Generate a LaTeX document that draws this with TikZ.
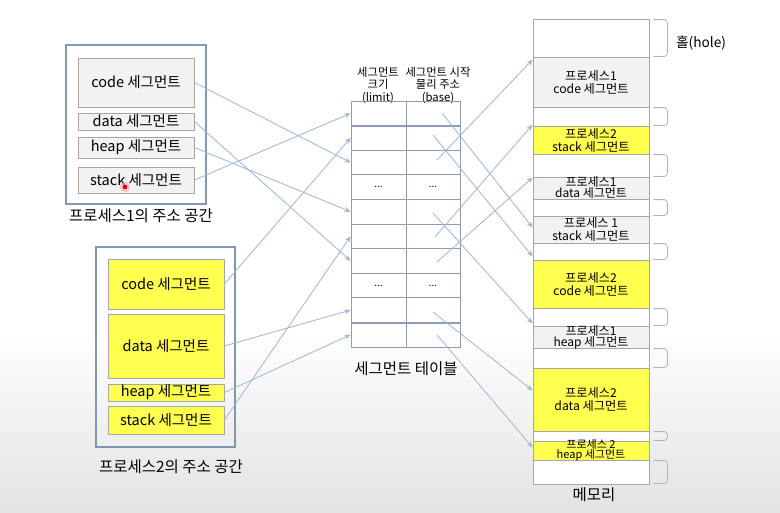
\documentclass[tikz,border=0pt]{standalone}
\usepackage{fontspec}
\setmainfont{Noto Sans CJK KR}
\usetikzlibrary{arrows.meta,calc}
\definecolor{boxline}{HTML}{8497B0}
\definecolor{segline}{HTML}{A6A6A6}
\definecolor{segfill}{HTML}{F2F2F2}
\definecolor{yel}{HTML}{FFFF50}
\definecolor{arr}{HTML}{9FB6D2}
\definecolor{tline}{HTML}{8C9DB5}
\begin{document}
\begin{tikzpicture}[x=1pt,y=-1pt,
  outerbox/.style={draw=boxline,line width=1.6pt},
  gseg/.style={draw=segline,fill=segfill,line width=0.8pt,inner sep=0pt,minimum width=116pt,font=\fontsize{14.5}{16}\selectfont},
  yseg/.style={gseg,fill=yel},
  mem/.style={draw=segline,line width=0.8pt,inner sep=0pt,minimum width=116pt},
  memg/.style={mem,fill=segfill},
  memy/.style={mem,fill=yel},
  memh/.style={mem,fill=white},
  memtxt/.style={align=center,inner sep=0pt,font=\fontsize{12.2}{13}\selectfont},
  cell/.style={draw=tline,line width=0.8pt,inner sep=0pt,minimum height=24.6pt},
  lcell/.style={cell,minimum width=55pt},
  bcell/.style={cell,minimum width=54pt},
  hdr/.style={align=center,inner sep=0pt,font=\fontsize{11.3}{12.5}\selectfont},
  conn/.style={draw=arr,line width=0.8pt,-{Stealth[length=6pt,width=5pt]}},
  brk/.style={draw=boxline!70,line width=0.8pt,rounded corners=3pt},
  lbl/.style={inner sep=0pt,font=\fontsize{15.5}{17}\selectfont},
  dots/.style={inner sep=0pt,font=\fontsize{10}{10}\selectfont},
]
\useasboundingbox (0,0) rectangle (780,512);
\fill[white] (0,0) rectangle (780,512);
\shade[top color=white,bottom color=black!11] (0,330) rectangle (780,512);

% process 1
\draw[outerbox] (66,45) rectangle (206,204);
\node[gseg,minimum height=49pt] (p1code) at (136,82.5) {code 세그먼트};
\node[gseg,minimum height=17pt] (p1data) at (136,121.5) {data 세그먼트};
\node[gseg,minimum height=21pt] (p1heap) at (136,147.5) {heap 세그먼트};
\node[gseg,minimum height=26pt] (p1stack) at (136,180) {stack 세그먼트};
\node[lbl] (p1lbl) at (141,216) {프로세스1의 주소 공간};
\fill[red!35,opacity=0.6] (125,187) circle (5);
\fill[red!85!black] (125,187) circle (2.3);

% process 2
\draw[outerbox] (96,247) rectangle (235,447);
\node[yseg,minimum height=50pt] (p2code) at (166,284) {code 세그먼트};
\node[yseg,minimum height=64pt] (p2data) at (166,346) {data 세그먼트};
\node[yseg,minimum height=17pt] (p2heap) at (166,392.5) {heap 세그먼트};
\node[yseg,minimum height=28pt] (p2stack) at (166,420) {stack 세그먼트};
\node[lbl] (p2lbl) at (171,467) {프로세스2의 주소 공간};

% segment table
\node[hdr] (hl) at (378,85) {세그먼트\\크기\\(limit)};
\node[hdr] (hb) at (438,85) {세그먼트 시작\\물리 주소\\(base)};
\foreach \i in {1,...,10}{
  \node[lcell] (l\i) at (378.5,{101+24.6*(\i-0.5)}) {};
  \node[bcell] (b\i) at (433,{101+24.6*(\i-0.5)}) {};
}
\draw[tline,line width=1.6pt] (l1.south west) -- (b1.south east);
\draw[tline,line width=1.6pt] (l9.south west) -- (b9.south east);
\node[dots] at (l4) {...};
\node[dots] at (b4) {...};
\node[dots] at (l8) {...};
\node[dots] at (b8) {...};
\node[lbl] (tlbl) at (406,369) {세그먼트 테이블};

% memory
\node[memh,minimum height=38pt] (mh0) at (591,38) {};
\node[memg,minimum height=50pt] (mp1code) at (591,82) {};
\node[memh,minimum height=19pt] (mh1) at (591,116.5) {};
\node[memy,minimum height=28pt] (mp2stack) at (591,140) {};
\node[memh,minimum height=23pt] (mh2) at (591,165.5) {};
\node[memg,minimum height=22pt] (mp1data) at (591,188) {};
\node[memh,minimum height=17pt] (mh3) at (591,207.5) {};
\node[memg,minimum height=27pt] (mp1stack) at (591,229.5) {};
\node[memh,minimum height=17pt] (mh4) at (591,251.5) {};
\node[memy,minimum height=48pt] (mp2code) at (591,284) {};
\node[memh,minimum height=18pt] (mh5) at (591,317) {};
\node[memg,minimum height=22pt] (mp1heap) at (591,337) {};
\node[memh,minimum height=20pt] (mh6) at (591,358) {};
\node[memy,minimum height=63pt] (mp2data) at (591,399.5) {};
\node[memh,minimum height=10pt] (mh7) at (591,436) {};
\node[memy,minimum height=19pt] (mp2heap) at (591,450.5) {};
\node[memh,minimum height=24pt] (mh8) at (591,472) {};

\node[memtxt] at (mp1code) {프로세스1\\code 세그먼트};
\node[memtxt] at (mp2stack) {프로세스2\\stack 세그먼트};
\node[memtxt,font=\fontsize{12}{11}\selectfont] at (mp1data) {프로세스1\\data 세그먼트};
\node[memtxt] at (mp1stack) {프로세스 1\\stack 세그먼트};
\node[memtxt] at (mp2code) {프로세스2\\code 세그먼트};
\node[memtxt,font=\fontsize{12}{11}\selectfont] at (mp1heap) {프로세스1\\heap 세그먼트};
\node[memtxt] at (mp2data) {프로세스2\\data 세그먼트};
\node[memtxt,font=\fontsize{11}{10}\selectfont] at (mp2heap) {프로세스 2\\heap 세그먼트};
\node[lbl] (mlbl) at (594,495) {메모리};

\foreach \h in {mh0,mh1,mh2,mh3,mh4,mh5,mh6,mh7,mh8}{
  \draw[brk] ($(\h.north east)+(4,1)$) -- ++(14,0) -- ($(\h.south east)+(18,-1)$) -- ++(-14,0);
}
\node[inner sep=0pt,font=\fontsize{13.7}{15}\selectfont] (hole) at (701,43) {홀(hole)};

% connectors: processes -> table
\draw[conn] (p1code.east) -- (l3.west);
\draw[conn] (p1data.east) -- (l7.west);
\draw[conn] (p1heap.east) -- (l5.west);
\draw[conn] (p1stack.east) -- (l1.west);
\draw[conn] (p2code.east) -- (l2.west);
\draw[conn] (p2data.east) -- (l9.west);
\draw[conn] (p2heap.east) -- (l10.west);
\draw[conn] (p2stack.east) -- (l6.west);

% connectors: table -> memory
\coordinate (s1) at (442,113);
\coordinate (s2) at (433,135);
\coordinate (s3) at (437,160);
\coordinate (s5) at (433,213);
\coordinate (s6) at (435,237);
\coordinate (s7) at (437,262);
\coordinate (s9) at (433,312);
\coordinate (s10) at (437,335);
\draw[conn] (s1) -- ($(mp1stack.west)+(0,-2)$);
\draw[conn] (s2) -- ($(mh4.west)+(0,5)$);
\draw[conn] (s3) -- ($(mp1code.north west)+(0,3)$);
\draw[conn] (s5) -- ($(mh5.south west)+(0,-3)$);
\draw[conn] (s6) -- ($(mp2stack.north west)+(0,-1)$);
\draw[conn] (s7) -- ($(mp1data.north west)+(0,1)$);
\draw[conn] (s9) -- ($(mp2data.west)+(0,-9)$);
\draw[conn] (s10) -- ($(mp2heap.west)+(0,-3)$);
\end{tikzpicture}
\end{document}
